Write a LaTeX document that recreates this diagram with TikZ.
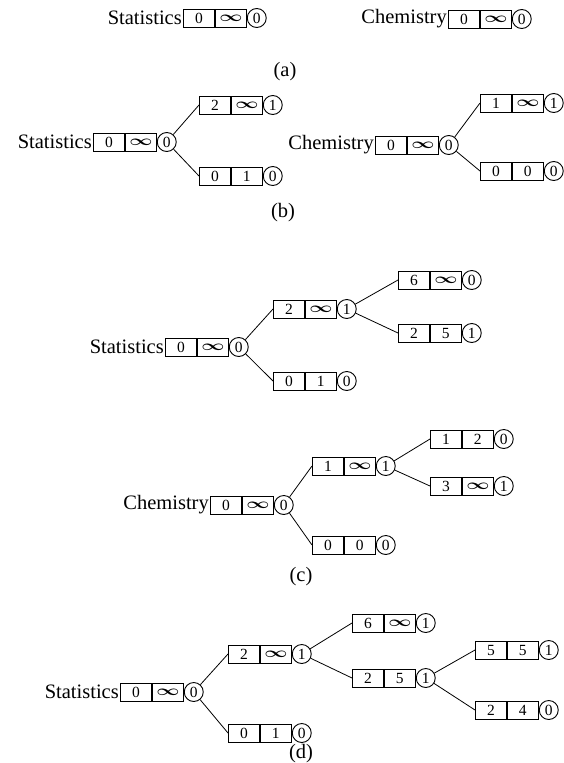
\documentclass[tikz,border=0pt]{standalone}
\usepackage{fontspec}
\setmainfont{Liberation Serif}
\usepackage{amsmath}
\usepackage{graphicx}
\usetikzlibrary{positioning}

% fonts for the attribute names and for the table entries
\newcommand\namefont{\fontsize{20.5}{24}\selectfont}
\newcommand\cellfont{\fontsize{15.5}{17}\selectfont}
% wide, heavy infinity sign used in the second cell
\newcommand\infmark{\scalebox{1.4}[1]{$\boldsymbol{\infty}$}}

\tikzset{
  cell/.style={draw, line width=0.9pt, minimum width=31pt, minimum height=18pt,
               inner sep=0pt, font=\cellfont, anchor=west},
  flag/.style={draw, circle, line width=0.9pt, minimum size=19pt,
               inner sep=0pt, font=\cellfont, anchor=west},
  link/.style={line width=0.8pt},
  tag/.style={font=\namefont, anchor=east, inner sep=1pt},
  caption/.style={font=\namefont, inner sep=0pt},
}

% one entry: two cells followed by a circled flag
% #1 name, #2 x, #3 y, #4 first cell, #5 second cell, #6 flag
\newcommand\entry[6]{%
  \node[cell] (#1a) at (#2,#3) {#4};
  \node[cell] (#1b) at (#1a.east) {#5};
  \node[flag] (#1c) at (#1b.east) {#6};
}

\begin{document}
\begin{tikzpicture}[x=1pt, y=-1pt]
\useasboundingbox (0,0) rectangle (564,763);

% ---------- (a) ----------
\entry{aS}{183}{18}{0}{\infmark}{0}
\node[tag] (aSt) at (aSa.west) {Statistics};
\entry{aC}{448}{19}{0}{\infmark}{0}
\node[tag] (aCt) at (aCa.west) {Chemistry};
\node[caption] (capa) at (285,72) {(a)};

% ---------- (b) ----------
\entry{bS}{93}{142}{0}{\infmark}{0}
\node[tag] (bSt) at (bSa.west) {Statistics};
\entry{bSx}{199}{105}{2}{\infmark}{1}
\entry{bSy}{199}{176}{0}{1}{0}
\draw[link] (bSc) -- (bSxa.west);
\draw[link] (bSc) -- (bSya.west);

\entry{bC}{375}{145}{0}{\infmark}{0}
\node[tag] (bCt) at (bCa.west) {Chemistry};
\entry{bCx}{480}{103}{1}{\infmark}{1}
\entry{bCy}{480}{171}{0}{0}{0}
\draw[link] (bCc) -- (bCxa.west);
\draw[link] (bCc) -- (bCya.west);
\node[caption] (capb) at (283,213) {(b)};

% ---------- (c) ----------
\entry{cS}{165}{347}{0}{\infmark}{0}
\node[tag] (cSt) at (cSa.west) {Statistics};
\entry{cSx}{273}{309}{2}{\infmark}{1}
\entry{cSy}{273}{381}{0}{1}{0}
\entry{cSxx}{398}{280}{6}{\infmark}{0}
\entry{cSxy}{398}{333}{2}{5}{1}
\draw[link] (cSc) -- (cSxa.west);
\draw[link] (cSc) -- (cSya.west);
\draw[link] (cSxc) -- (cSxxa.west);
\draw[link] (cSxc) -- (cSxya.west);

\entry{cC}{210}{505}{0}{\infmark}{0}
\node[tag] (cCt) at (cCa.west) {Chemistry};
\entry{cCx}{312}{466}{1}{\infmark}{1}
\entry{cCy}{312}{545}{0}{0}{0}
\entry{cCxx}{430}{439}{1}{2}{0}
\entry{cCxy}{430}{486}{3}{\infmark}{1}
\draw[link] (cCc) -- (cCxa.west);
\draw[link] (cCc) -- (cCya.west);
\draw[link] (cCxc) -- (cCxxa.west);
\draw[link] (cCxc) -- (cCxya.west);
\node[caption] (capc) at (301,577) {(c)};

% ---------- (d) ----------
\entry{dS}{120}{692}{0}{\infmark}{0}
\node[tag] (dSt) at (dSa.west) {Statistics};
\entry{dSx}{228}{654}{2}{\infmark}{1}
\entry{dSy}{228}{733}{0}{1}{0}
\entry{dSxx}{352}{623}{6}{\infmark}{1}
\entry{dSxy}{352}{678}{2}{5}{1}
\entry{dSxyx}{475}{650}{5}{5}{1}
\entry{dSxyy}{475}{710}{2}{4}{0}
\draw[link] (dSc) -- (dSxa.west);
\draw[link] (dSc) -- (dSya.west);
\draw[link] (dSxc) -- (dSxxa.west);
\draw[link] (dSxc) -- (dSxya.west);
\draw[link] (dSxyc) -- (dSxyxa.west);
\draw[link] (dSxyc) -- (dSxyya.west);
\node[caption] (capd) at (301,754) {(d)};
\end{tikzpicture}
\end{document}
